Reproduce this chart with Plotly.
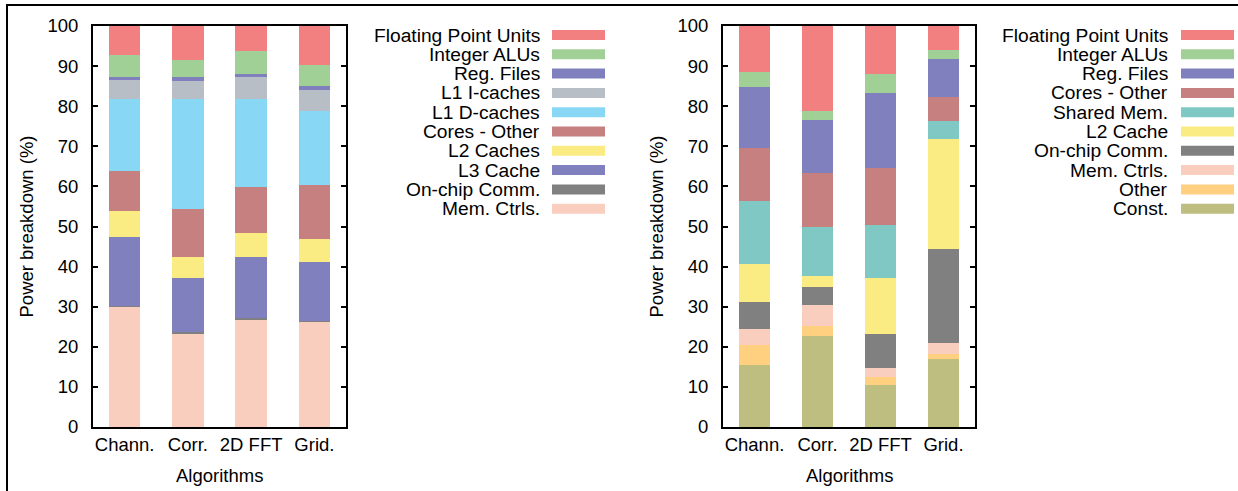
import plotly.graph_objects as go

W, H = 1238, 491

categories = ["Chann.", "Corr.", "2D FFT", "Grid."]

# Left chart (bottom -> top stacking order)
left_names = ["Mem. Ctrls.", "On-chip Comm.", "L3 Cache", "L2 Caches", "Cores - Other",
              "L1 D-caches", "L1 I-caches", "Reg. Files", "Integer ALUs", "Floating Point Units"]
left_mem = [30.1, 23.4, 26.7, 26.2]
left_onchip = [0.2, 0.3, 0.5, 0.2]
left_l3 = [17.1, 13.5, 15.2, 14.7]
left_l2 = [6.5, 5.2, 6.0, 5.8]
left_cores = [9.9, 12.0, 11.5, 13.4]
left_l1d = [18.0, 27.4, 21.9, 18.5]
left_l1i = [4.7, 4.5, 5.5, 5.2]
left_reg = [0.8, 1.0, 0.7, 1.0]
left_int = [5.5, 4.2, 5.8, 5.3]
left_fp = [7.2, 8.5, 6.2, 9.7]
left_values = [left_mem, left_onchip, left_l3, left_l2, left_cores,
               left_l1d, left_l1i, left_reg, left_int, left_fp]
left_colors = ["#F9CEBE", "#808080", "#8080BE", "#FAEB82", "#C68080",
               "#87D7F5", "#B8BEC6", "#8080BE", "#A0D096", "#F28080"]

# Right chart (bottom -> top stacking order)
right_names = ["Const.", "Other", "Mem. Ctrls.", "On-chip Comm.", "L2 Cache",
               "Shared Mem.", "Cores - Other", "Reg. Files", "Integer ALUs", "Floating Point Units"]
right_const = [15.5, 22.7, 10.5, 17.0]
right_other = [4.9, 2.5, 2.0, 1.2]
right_mem = [4.0, 5.2, 2.2, 2.7]
right_onchip = [6.8, 4.5, 8.5, 23.5]
right_l2 = [9.4, 2.8, 14.0, 27.4]
right_shared = [15.8, 12.2, 13.2, 4.5]
right_cores = [13.3, 13.4, 14.3, 6.0]
right_reg = [15.1, 13.3, 18.6, 9.5]
right_int = [3.8, 2.2, 4.7, 2.2]
right_fp = [11.4, 21.2, 12.0, 6.0]
right_values = [right_const, right_other, right_mem, right_onchip, right_l2,
                right_shared, right_cores, right_reg, right_int, right_fp]
right_colors = ["#BEBE80", "#FED080", "#F9CEBE", "#808080", "#FAEB82",
                "#80C8C4", "#C68080", "#8080BE", "#A0D096", "#F28080"]

FONT = "Liberation Sans, Arial, Helvetica, sans-serif"
FS = 18.5
FS_LEG = 19.2

fig = go.Figure()
for name, vals, col in zip(left_names, left_values, left_colors):
    fig.add_trace(go.Bar(x=categories, y=vals, name=name, marker=dict(color=col, line=dict(width=0)),
                         xaxis="x", yaxis="y", showlegend=False))
for name, vals, col in zip(right_names, right_values, right_colors):
    fig.add_trace(go.Bar(x=categories, y=vals, name=name, marker=dict(color=col, line=dict(width=0)),
                         xaxis="x2", yaxis="y2", showlegend=False))

def px_x(x):
    return x / W

def px_y(y):
    return 1 - y / H

ydom = [px_y(427), px_y(26)]
xaxis_common = dict(showline=True, linecolor="black", linewidth=2, mirror=True, ticks="",
                    tickfont=dict(family=FONT, size=FS, color="black"), ticklabelstandoff=0,
                    showgrid=False, zeroline=False, range=[-0.5, 3.5], fixedrange=True,
                    automargin=False)
yaxis_common = dict(showline=True, linecolor="black", linewidth=2, mirror="ticks", ticks="inside",
                    ticklen=5, tickwidth=1.5, tickcolor="black", range=[0, 100], dtick=10,
                    tickfont=dict(family=FONT, size=FS, color="black"), ticklabelstandoff=9,
                    showgrid=False, zeroline=False, domain=ydom, automargin=False)

fig.update_layout(
    width=W, height=H,
    margin=dict(l=0, r=0, t=0, b=0, pad=0, autoexpand=False),
    paper_bgcolor="white", plot_bgcolor="white",
    barmode="stack", bargap=0.5,
    showlegend=False,
    xaxis=dict(domain=[px_x(93), px_x(346)], anchor="y", **xaxis_common),
    yaxis=dict(anchor="x", **yaxis_common),
    xaxis2=dict(domain=[px_x(723), px_x(975)], anchor="y2", **xaxis_common),
    yaxis2=dict(anchor="x2", **yaxis_common),
    font=dict(family=FONT, size=FS, color="black"),
)

annotations = []
shapes = []

# Axis titles
for xc, yt in [(26, 226.5), (656, 226.5)]:
    annotations.append(dict(x=px_x(xc), y=px_y(yt), xref="paper", yref="paper",
                            text="Power breakdown (%)", textangle=-90, showarrow=False,
                            font=dict(family=FONT, size=FS, color="black"),
                            xanchor="center", yanchor="middle"))
for xc in [219.5, 849]:
    annotations.append(dict(x=px_x(xc), y=px_y(475), xref="paper", yref="paper",
                            text="Algorithms", showarrow=False,
                            font=dict(family=FONT, size=FS, color="black"),
                            xanchor="center", yanchor="middle"))

# Custom legends (text right-aligned, colour sample on the right), top entry first
def add_legend(names, colors, text_right, sx0, sx1):
    for i, (n, c) in enumerate(zip(reversed(names), reversed(colors))):
        yc = 35 + i * 19.3
        annotations.append(dict(x=px_x(text_right), y=px_y(yc), xref="paper", yref="paper",
                                text=n, showarrow=False, xanchor="right", yanchor="middle",
                                font=dict(family=FONT, size=FS_LEG, color="black")))
        shapes.append(dict(type="rect", xref="paper", yref="paper",
                           x0=px_x(sx0), x1=px_x(sx1), y0=px_y(yc + 5), y1=px_y(yc - 5),
                           fillcolor=c, line=dict(width=0)))

add_legend(left_names, left_colors, 542, 552, 605)
add_legend(right_names, right_colors, 1170, 1181, 1234)

# Outer border (top and left edges visible)
shapes.append(dict(type="rect", xref="paper", yref="paper",
                   x0=px_x(7), x1=1.05, y0=-0.05, y1=px_y(5),
                   line=dict(color="black", width=2), fillcolor="rgba(0,0,0,0)"))

fig.update_layout(annotations=annotations, shapes=shapes)

fig.write_html("out.html")
